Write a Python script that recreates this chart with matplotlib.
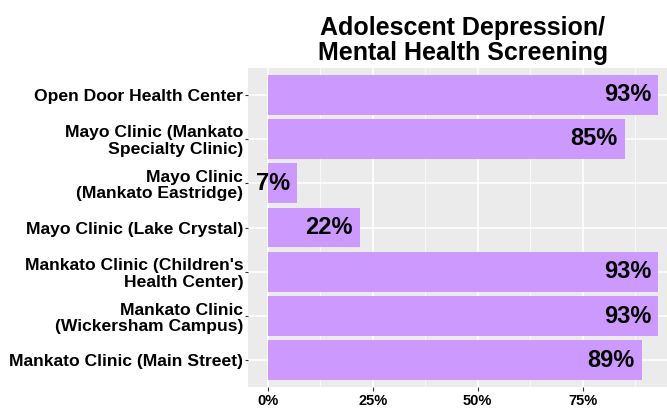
import matplotlib.pyplot as plt
from matplotlib.ticker import FixedLocator, FuncFormatter

# Datos (de arriba a abajo)
clinicas = ['Open Door Health Center',
            'Mayo Clinic (Mankato\nSpecialty Clinic)',
            'Mayo Clinic\n(Mankato Eastridge)',
            'Mayo Clinic (Lake Crystal)',
            "Mankato Clinic (Children's\nHealth Center)",
            'Mankato Clinic\n(Wickersham Campus)',
            'Mankato Clinic (Main Street)']
porcentajes = [93, 85, 7, 22, 93, 93, 89]
ticks_x = [0, 25, 50, 75]

plt.rcParams['font.family'] = ['Liberation Sans', 'DejaVu Sans']

fig = plt.figure(figsize=(6.67, 4.08), dpi=100)
ax = fig.add_axes([248 / 667, 21 / 408, 430 / 667, 319 / 408])
ax.set_facecolor('#EBEBEB')

posiciones = list(range(len(clinicas)))
ax.barh(posiciones, porcentajes, height=0.9, color='#CC99FF', zorder=2)

for y, v in zip(posiciones, porcentajes):
    ax.annotate(f'{v}%', (v, y), xytext=(-5, 0), textcoords='offset points',
                ha='right', va='center', fontsize=17, fontweight='bold',
                color='black', zorder=3)

ax.set_xlim(-4.65, 97.65)
ax.set_ylim(len(clinicas) - 0.4, -0.6)
ax.set_yticks(posiciones)
ax.set_yticklabels(clinicas, fontsize=12.6, fontweight='bold', linespacing=1.1)

ax.xaxis.set_major_locator(FixedLocator(ticks_x))
ax.xaxis.set_minor_locator(FixedLocator([12.5, 37.5, 62.5, 87.5]))
ax.xaxis.set_major_formatter(FuncFormatter(lambda v, p: f'{v:.0f}%'))
for lbl in ax.get_xticklabels():
    lbl.set_fontweight('bold')
ax.tick_params(axis='x', labelsize=10.5, length=3, pad=2, color='#333333')
ax.tick_params(axis='x', which='minor', length=0)
ax.tick_params(axis='y', length=2.5, pad=1, color='#333333')

ax.grid(True, which='major', color='white', linewidth=1.1, zorder=0)
ax.grid(True, which='minor', axis='x', color='white', linewidth=0.5, zorder=0)
ax.set_axisbelow(True)
for s in ax.spines.values():
    s.set_visible(False)

ax.set_title('Adolescent Depression/\nMental Health Screening',
             fontsize=18, fontweight='bold', pad=6, linespacing=1.05)

fig.savefig('out.png', dpi=100)
